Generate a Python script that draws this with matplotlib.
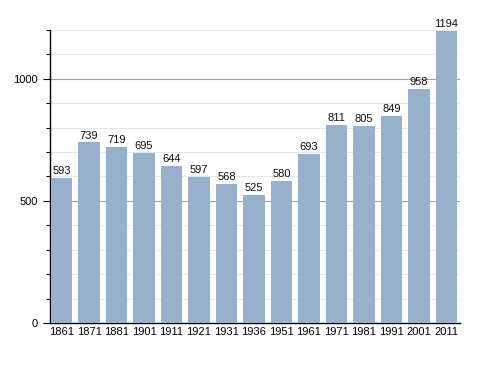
import matplotlib
matplotlib.use("Agg")
import matplotlib.pyplot as plt
from matplotlib.ticker import MultipleLocator

plt.rcParams["font.family"] = ["Liberation Sans", "DejaVu Sans"]

years = ["1861", "1871", "1881", "1901", "1911", "1921", "1931", "1936",
         "1951", "1961", "1971", "1981", "1991", "2001", "2011"]
population = [593, 739, 719, 695, 644, 597, 568, 525, 580, 693, 811, 805, 849, 958, 1194]

fig = plt.figure(figsize=(4.88, 3.73), dpi=100)
ax = fig.add_axes([0.1025, 0.134, 0.8405, 0.786])

x = range(len(years))
ax.bar(x, population, width=0.78, color="#97b1cd", zorder=3)
for xi, v in zip(x, population):
    ax.text(xi, v + 8, str(v), ha="center", va="bottom", fontsize=8, color="#111111", zorder=4)

ax.set_xlim(-0.42, len(years) - 0.5)
ax.set_ylim(0, 1200)
ax.set_xticks(list(x))
ax.set_xticklabels(years, fontsize=8)
ax.tick_params(axis="x", length=0, pad=3)
ax.yaxis.set_major_locator(MultipleLocator(500))
ax.yaxis.set_minor_locator(MultipleLocator(100))
ax.tick_params(axis="y", which="major", length=5, labelsize=8, width=0.8, pad=4)
ax.tick_params(axis="y", which="minor", length=3, width=0.8)
ax.grid(axis="y", which="minor", color="#e6e6e6", lw=0.8, zorder=0)
ax.grid(axis="y", which="major", color="#a0a0a0", lw=0.8, zorder=1)
for s in ["top", "right"]:
    ax.spines[s].set_visible(False)
ax.spines["left"].set_linewidth(1.0)
ax.spines["bottom"].set_linewidth(1.0)

fig.savefig("out.png", dpi=100)
